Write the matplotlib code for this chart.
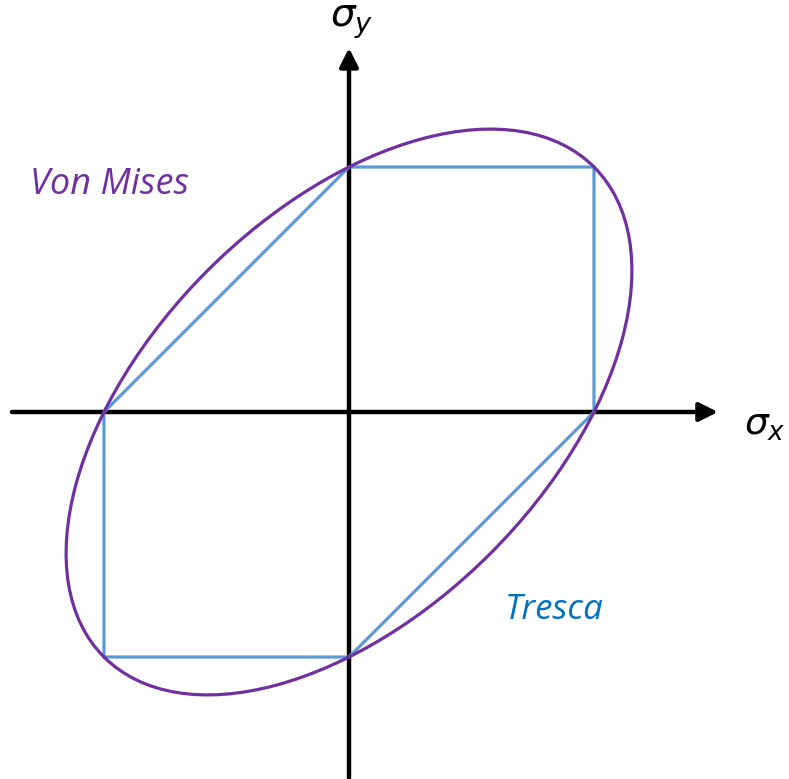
import numpy as np
import matplotlib
matplotlib.use('Agg')
import matplotlib.pyplot as plt
from matplotlib.patches import Ellipse

# yield stress (normalised) and the Tresca hexagon corners
sigma_yield = 1.0
tresca_x = [1, 1, 0, -1, -1, 0, 1]
tresca_y = [0, 1, 1, 0, -1, -1, 0]

# von Mises: sx^2 - sx*sy + sy^2 = sy^2  -> ellipse at 45 deg
vm_major = np.sqrt(2) * sigma_yield
vm_minor = np.sqrt(2.0 / 3.0) * sigma_yield
vm_angle = 45

purple = '#7030A0'
blue_line = '#5B9BD5'
blue_text = '#0070C0'

plt.rcParams['mathtext.fontset'] = 'dejavusans'

fig = plt.figure(figsize=(7.89, 7.79), dpi=100)
ax = fig.add_axes([0, 0, 1, 1])
scale = 245.0
ox, oy = 349, 412
ax.set_xlim(-ox / scale, (789 - ox) / scale)
ax.set_ylim((oy - 779) / scale, oy / scale)
ax.axis('off')

# axes with arrows
ax.annotate('', xy=(1.506, 0), xytext=(-1.3755, 0),
            arrowprops=dict(arrowstyle='-|>', lw=3.2, color='black', mutation_scale=28,
                            shrinkA=0, shrinkB=0))
ax.annotate('', xy=(0, 1.486), xytext=(0, -1.494),
            arrowprops=dict(arrowstyle='-|>', lw=3.2, color='black', mutation_scale=28,
                            shrinkA=0, shrinkB=0))

ax.plot(tresca_x, tresca_y, color=blue_line, lw=2.3, solid_joinstyle='miter', zorder=3)
ax.add_patch(Ellipse((0, 0), 2 * vm_major, 2 * vm_minor, angle=vm_angle,
                     fill=False, edgecolor=purple, lw=2.3, zorder=4))

ax.text(0.012, 1.592, r'$\sigma_y$', fontsize=28, ha='center', va='center')
ax.text(1.695, -0.053, r'$\sigma_x$', fontsize=27, ha='center', va='center')
ax.text(-1.302, 0.927, 'Von Mises', fontsize=26, style='italic', color=purple,
        family='Open Sans', ha='left', va='center')
ax.text(0.637, -0.808, 'Tresca', fontsize=25, style='italic', color=blue_text,
        family='Open Sans', ha='left', va='center')

fig.savefig('out.png', dpi=100)
